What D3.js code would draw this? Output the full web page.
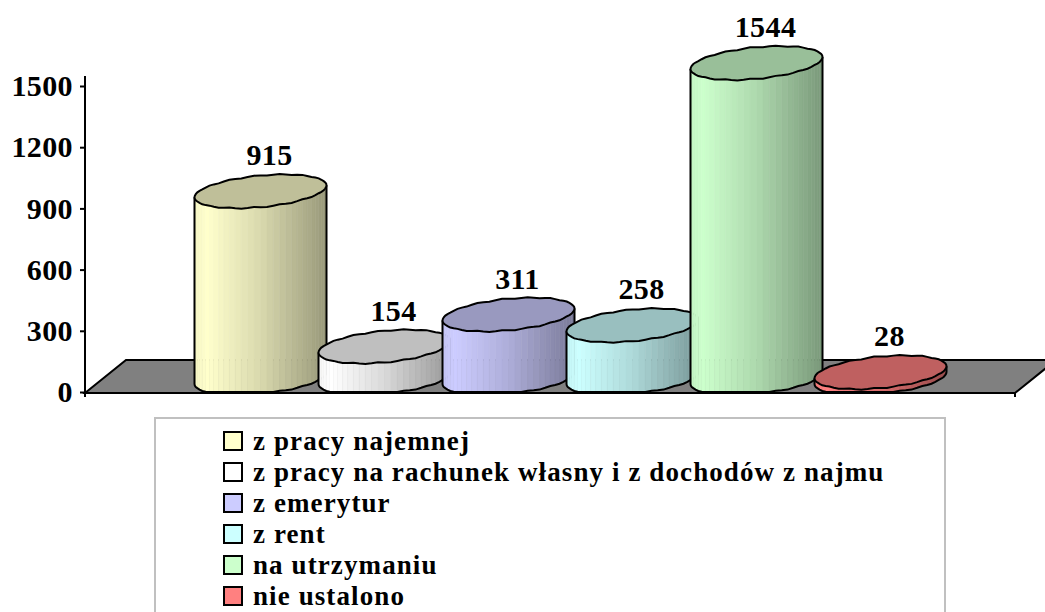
<!DOCTYPE html>
<html><head><meta charset="utf-8">
<script src="https://cdn.jsdelivr.net/npm/d3@7"></script>
<style>html,body{margin:0;padding:0;background:#fff;overflow:hidden}svg{display:block}
text{font-family:"Liberation Serif",serif;font-weight:bold;fill:#000}</style>
</head><body><svg id="c" width="1045" height="612"></svg>
<script>
const categories = ["z pracy najemnej","z pracy na rachunek własny i z dochodów z najmu","z emerytur","z rent","na utrzymaniu","nie ustalono"];
const values = [915,154,311,258,1544,28];
const yTicks = [0,300,600,900,1200,1500];
const colors = ["#FFFFCC","#FFFFFF","#CCCCFF","#CCFFFF","#CCFFCC","#FF8080"];

const svg = d3.select("#c");
const y = d3.scaleLinear().domain([0,1500]).range([392,86]);
const x = d3.scaleBand().domain(categories).range([198.5,942.5]);
const A=66, B=15.8, S=6, LIFT=14, N=32;

// floor
const fl={l:85,r:1015,yf:393,yb:360,dx:41};
svg.append("polygon")
  .attr("points",[[fl.l,fl.yf],[fl.l+fl.dx,fl.yb],[fl.r+fl.dx,fl.yb],[fl.r,fl.yf]].join(" "))
  .attr("fill","#808080").attr("stroke","#000").attr("stroke-width",2);

const FLOOR_EDGE=392;
const pt=(cx,cy,t)=>{
  const w=0.55*Math.sin(16*t);
  return [cx+A*Math.cos(t), Math.min(FLOOR_EDGE, cy-S*Math.cos(t)-(B+w)*Math.sin(t))];
};
const line=d3.line();
const shade=d3.scaleLinear().domain([0,0.1,0.5,1]).range([0.96,1,0.85,0.6]);

categories.forEach((c,i)=>{
  const cx=x(c)+x.bandwidth()/2, base=y(0)-LIFT, top=y(values[i])-LIFT;
  const g=svg.append("g");
  const col=d3.color(colors[i]);
  const mul=k=>d3.rgb(col.r*k,col.g*k,col.b*k);
  const ts=d3.range(N+1).map(j=>Math.PI+Math.PI*j/N);
  for(let j=0;j<N;j++){
    const a=ts[j],b=ts[j+1];
    const u=(1-Math.cos(a+Math.PI/N/2-Math.PI))/2;
    const k=shade(u);
    const poly=[pt(cx,top,a),pt(cx,top,b),pt(cx,base,b),pt(cx,base,a)];
    g.append("path").attr("d",line(poly)+"Z").attr("fill",mul(k)).attr("stroke",mul(k)).attr("stroke-width",0.6);
  }
  const front=ts.map(t=>pt(cx,base,t));
  const outline=[pt(cx,top,Math.PI),...front,pt(cx,top,2*Math.PI)];
  g.append("path").attr("d",line(outline)).attr("fill","none").attr("stroke","#000").attr("stroke-width",2);
  const cap=d3.range(2*N).map(j=>pt(cx,top,Math.PI*j/N));
  g.append("path").attr("d",line(cap)+"Z").attr("fill",mul(0.75)).attr("stroke","#000").attr("stroke-width",2);
});

// value labels
svg.append("g").selectAll("text").data(values).join("text")
  .attr("x",(d,i)=>x(categories[i])+x.bandwidth()/2+9)
  .attr("y",d=>y(d)-LIFT-26)
  .attr("text-anchor","middle").attr("font-size",30).attr("letter-spacing",0.4).text(d=>d);

// axes
const ax=svg.append("g").attr("transform","translate(85,0)")
  .call(d3.axisLeft(y).tickValues(yTicks).tickSize(5).tickSizeOuter(0).tickPadding(7).tickFormat(d3.format("d")));
ax.select(".domain").attr("d","M0,76V397").attr("stroke","#000").attr("stroke-width",2);
ax.selectAll(".tick line").attr("stroke","#000").attr("stroke-width",2);
ax.selectAll(".tick text").attr("font-size",30).attr("letter-spacing",0.4)
  .attr("font-family",'"Liberation Serif",serif').attr("font-weight","bold").attr("fill","#000");
svg.append("line").attr("x1",fl.l).attr("x2",fl.r).attr("y1",fl.yf).attr("y2",fl.yf).attr("stroke","#000").attr("stroke-width",2);
svg.append("line").attr("x1",fl.r).attr("x2",fl.r).attr("y1",fl.yf).attr("y2",397).attr("stroke","#000").attr("stroke-width",2);

// legend
svg.append("rect").attr("x",155).attr("y",418).attr("width",790).attr("height",210)
  .attr("fill","#fff").attr("stroke","#c0c0c0").attr("stroke-width",2);
const ly=d3.scalePoint().domain(categories).range([441,596]);
const lg=svg.append("g").selectAll("g").data(categories).join("g")
  .attr("transform",d=>`translate(224,${ly(d)})`);
lg.append("rect").attr("x",0).attr("y",-9).attr("width",18).attr("height",18)
  .attr("fill",(d,i)=>colors[i]).attr("stroke","#000").attr("stroke-width",2);
lg.append("text").attr("x",29).attr("y",9).attr("font-size",27).attr("letter-spacing",1.1).text(d=>d);
</script></body></html>
